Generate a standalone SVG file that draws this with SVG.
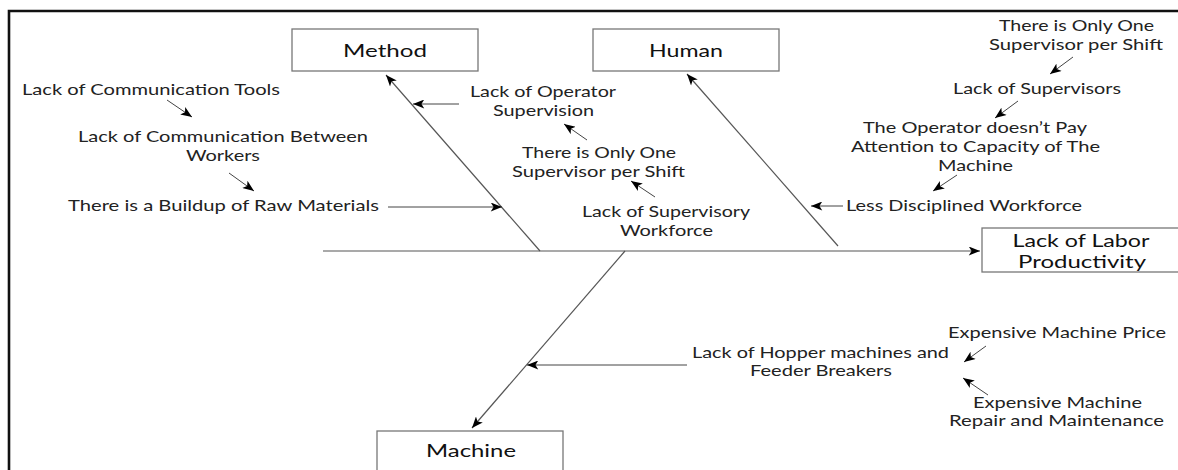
<svg xmlns="http://www.w3.org/2000/svg" width="1178" height="470" viewBox="0 0 1178 470">
<defs>
<style>
.t{font-family:Lato,"Open Sans","Liberation Sans",sans-serif;font-size:15px;fill:#222;text-anchor:middle}
.b{font-family:Lato,"Open Sans","Liberation Sans",sans-serif;font-size:17.5px;fill:#111;text-anchor:middle}
.box{fill:#fff;stroke:#777;stroke-width:1.3}
.ar{stroke:#444;stroke-width:1;fill:none;marker-end:url(#ah)}
.bone{stroke:#555;stroke-width:1.2;fill:none;marker-end:url(#ah)}
</style>
<marker id="ah" viewBox="0 0 10 8" refX="10" refY="4" markerWidth="13" markerHeight="9" markerUnits="userSpaceOnUse" orient="auto">
<path d="M0,0 L10,4 L0,8 L2.5,4 z" fill="#000"/>
</marker>
</defs>
<rect x="0" y="0" width="1178" height="470" fill="#fff"/>
<path d="M9,470 V11 H1178" stroke="#111" stroke-width="2.6" fill="none"/>
<g id="connectors">
<line class="bone" x1="323" y1="251" x2="980" y2="251"/>
<line class="bone" x1="540" y1="251" x2="386" y2="75"/>
<line class="bone" x1="838" y1="246" x2="687" y2="74"/>
<line class="bone" x1="625" y1="251" x2="472" y2="428"/>
<line class="ar" x1="459" y1="104" x2="413" y2="104"/>
<line class="ar" x1="388" y1="207" x2="502" y2="207"/>
<line class="ar" x1="167" y1="100" x2="192" y2="117"/>
<line class="ar" x1="229" y1="173" x2="254" y2="191"/>
<line class="ar" x1="587" y1="140" x2="564" y2="124"/>
<line class="ar" x1="655" y1="197" x2="631" y2="181"/>
<line class="ar" x1="1073" y1="57" x2="1050" y2="74"/>
<line class="ar" x1="1018" y1="101" x2="995" y2="118"/>
<line class="ar" x1="957" y1="175" x2="933" y2="191"/>
<line class="ar" x1="843" y1="206" x2="811" y2="206"/>
<line class="ar" x1="687" y1="365" x2="527" y2="365"/>
<line class="ar" x1="986" y1="346" x2="964" y2="362"/>
<line class="ar" x1="988" y1="395" x2="963" y2="378"/>
</g>
<g id="method"><rect class="box" x="292" y="29" width="186" height="42"/><text class="b" x="385" y="57" textLength="84" lengthAdjust="spacingAndGlyphs">Method</text></g>
<g id="human"><rect class="box" x="593" y="29" width="186" height="42"/><text class="b" x="686" y="57" textLength="74" lengthAdjust="spacingAndGlyphs">Human</text></g>
<g id="machine"><rect class="box" x="377" y="431" width="186" height="45"/><text class="b" x="471" y="457" textLength="90" lengthAdjust="spacingAndGlyphs">Machine</text></g>
<g id="effect"><rect class="box" x="982" y="228" width="200" height="44"/><text class="b" x="1081" y="247" textLength="137" lengthAdjust="spacingAndGlyphs">Lack of Labor</text><text class="b" x="1082" y="268" textLength="128" lengthAdjust="spacingAndGlyphs">Productivity</text></g>
<g id="labels">
<text class="t" x="151" y="95" textLength="258" lengthAdjust="spacingAndGlyphs">Lack of Communication Tools</text>
<text class="t" x="223" y="142" textLength="290" lengthAdjust="spacingAndGlyphs">Lack of Communication Between</text>
<text class="t" x="223" y="161" textLength="74" lengthAdjust="spacingAndGlyphs">Workers</text>
<text class="t" x="223.5" y="211" textLength="311" lengthAdjust="spacingAndGlyphs">There is a Buildup of Raw Materials</text>
<text class="t" x="543" y="97" textLength="146" lengthAdjust="spacingAndGlyphs">Lack of Operator</text>
<text class="t" x="543.5" y="116" textLength="101" lengthAdjust="spacingAndGlyphs">Supervision</text>
<text class="t" x="599" y="158" textLength="154" lengthAdjust="spacingAndGlyphs">There is Only One</text>
<text class="t" x="598.5" y="177" textLength="173" lengthAdjust="spacingAndGlyphs">Supervisor per Shift</text>
<text class="t" x="666" y="217" textLength="168" lengthAdjust="spacingAndGlyphs">Lack of Supervisory</text>
<text class="t" x="666.5" y="236" textLength="93" lengthAdjust="spacingAndGlyphs">Workforce</text>
<text class="t" x="1076.5" y="31" textLength="155" lengthAdjust="spacingAndGlyphs">There is Only One</text>
<text class="t" x="1076" y="50" textLength="174" lengthAdjust="spacingAndGlyphs">Supervisor per Shift</text>
<text class="t" x="1037" y="94" textLength="168" lengthAdjust="spacingAndGlyphs">Lack of Supervisors</text>
<text class="t" x="975" y="133" textLength="224" lengthAdjust="spacingAndGlyphs">The Operator doesn’t Pay</text>
<text class="t" x="975.5" y="152" textLength="249" lengthAdjust="spacingAndGlyphs">Attention to Capacity of The</text>
<text class="t" x="975.5" y="171" textLength="75" lengthAdjust="spacingAndGlyphs">Machine</text>
<text class="t" x="964" y="211" textLength="236" lengthAdjust="spacingAndGlyphs">Less Disciplined Workforce</text>
<text class="t" x="820.5" y="358" textLength="257" lengthAdjust="spacingAndGlyphs">Lack of Hopper machines and</text>
<text class="t" x="821" y="376" textLength="142" lengthAdjust="spacingAndGlyphs">Feeder Breakers</text>
<text class="t" x="1057" y="338" textLength="218" lengthAdjust="spacingAndGlyphs">Expensive Machine Price</text>
<text class="t" x="1057.5" y="408" textLength="169" lengthAdjust="spacingAndGlyphs">Expensive Machine</text>
<text class="t" x="1056.5" y="426" textLength="215" lengthAdjust="spacingAndGlyphs">Repair and Maintenance</text>
</g>
</svg>
